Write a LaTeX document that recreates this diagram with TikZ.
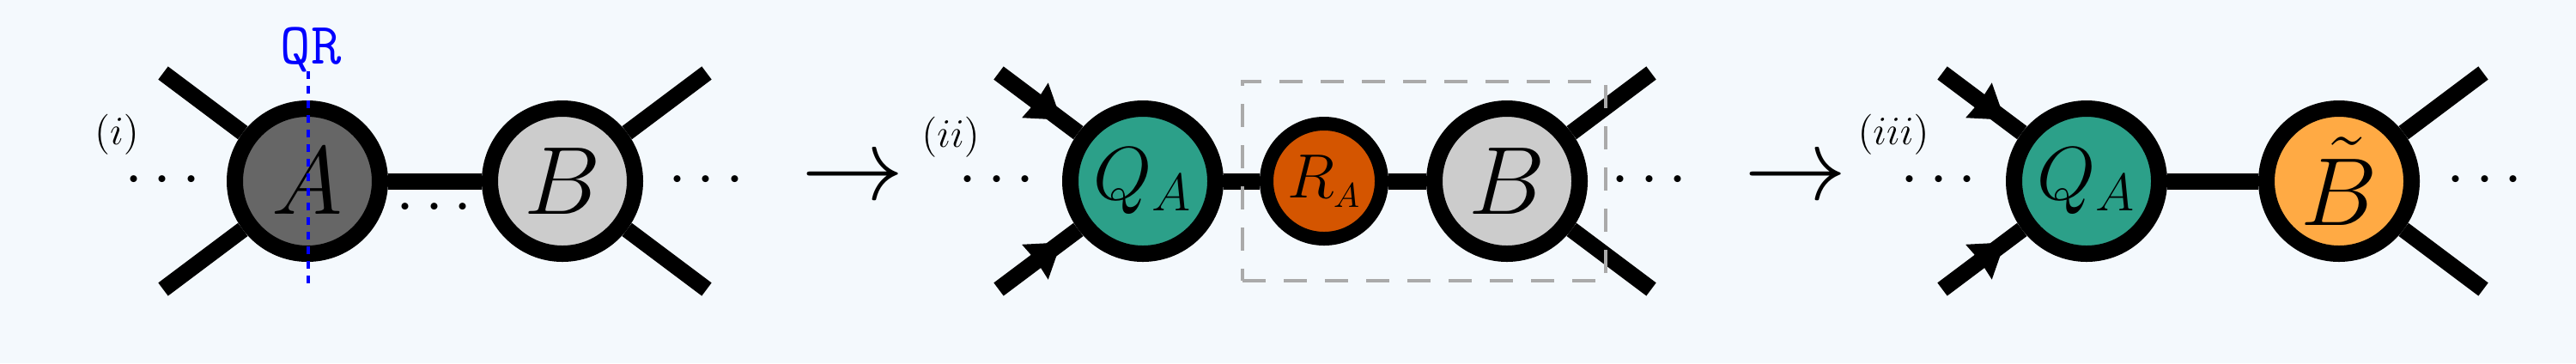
\documentclass[tikz,border=0pt]{standalone}
\usepackage{fix-cm}
\usetikzlibrary{decorations.markings}
\definecolor{bgcol}{HTML}{F4F9FD}
\definecolor{darkA}{HTML}{666666}
\definecolor{lightB}{HTML}{CCCCCC}
\definecolor{tealQ}{HTML}{2CA089}
\definecolor{rustR}{HTML}{D45500}
\definecolor{orangeB}{HTML}{FFAA44}
\definecolor{boxgray}{HTML}{AAAAAA}
\definecolor{qrblue}{HTML}{0000FF}
\tikzset{
  tensor/.style={circle, draw=black, line width=0.19cm, minimum size=1.69cm, inner sep=0pt},
  smalltensor/.style={circle, draw=black, line width=0.16cm, minimum size=1.34cm, inner sep=0pt},
  bond/.style={line width=0.19cm},
  leg/.style={line width=0.19cm},
  inleg/.style={leg, postaction={decorate}, decoration={markings,
      mark=at position 0.91cm with {\fill (0,0) -- (-0.38,0.255) -- (-0.36,0) -- (-0.38,-0.255) -- cycle;}}},
  bigtext/.style={font=\fontsize{32}{38}\selectfont},
  qfont/.style={font=\fontsize{25}{30}\selectfont},
  rfont/.style={font=\fontsize{20.7}{25}\selectfont},
  dotsnode/.style={inner sep=0pt, font=\fontsize{21.5}{26}\selectfont},
  arrownode/.style={inner sep=0pt, font=\fontsize{34}{40}\selectfont},
  panellabel/.style={inner sep=0pt, font=\fontsize{13.4}{16}\selectfont},
  qrlabel/.style={inner sep=0pt, text=qrblue, font=\fontsize{19.5}{23}\selectfont\ttfamily},
  qrline/.style={draw=qrblue, line width=0.045cm, dash pattern=on 0.09cm off 0.08cm},
  dashbox/.style={draw=boxgray, line width=0.04cm, dash pattern=on 0.27cm off 0.21cm,
      minimum width=4.23cm, minimum height=2.32cm, inner sep=0pt}
}
\begin{document}
\begin{tikzpicture}
\useasboundingbox (0,-2.12) rectangle (30,2.11);
\fill[bgcol] (0,-2.12) rectangle (30,2.11);

% ---------- panel (i)
\node[tensor, fill=darkA, bigtext] (A1) at (3.58,0) {$A$};
\node[tensor, fill=lightB, bigtext] (B1) at (6.55,0) {$B$};
\coordinate (A1ul) at (1.90,1.26);
\coordinate (A1dl) at (1.90,-1.26);
\coordinate (B1ur) at (8.23,1.26);
\coordinate (B1dr) at (8.23,-1.26);
\draw[leg] (A1ul) -- (A1);
\draw[leg] (A1dl) -- (A1);
\draw[leg] (B1) -- (B1ur);
\draw[leg] (B1) -- (B1dr);
\draw[bond] (A1) -- (B1);
\node[dotsnode] (d1l) at (1.895,0) {$\cdots$};
\node[dotsnode] (d1m) at (5.06,-0.32) {$\cdots$};
\node[dotsnode] (d1r) at (8.225,0) {$\cdots$};
\node[panellabel] (l1) at (1.36,0.54) {$(i)$};
\node[qrlabel] (qr) at (3.62,1.53) {QR};
\coordinate (qrtop) at (3.59,1.28);
\coordinate (qrbot) at (3.59,-1.19);
\draw[qrline] (qrtop) -- (qrbot);

% ---------- panel (ii)
\node[arrownode] (ar1) at (9.93,0) {$\rightarrow$};
\node[panellabel] (l2) at (11.07,0.515) {$(ii)$};
\node[dotsnode] (d2l) at (11.61,0) {$\cdots$};
\node[tensor, fill=tealQ, qfont] (Q2) at (13.31,0) {$Q_A$};
\node[smalltensor, fill=rustR, rfont] (R2) at (15.42,0) {$R_{\mbox{\fontsize{11.4}{13}\selectfont$A$}}$};
\node[tensor, fill=lightB, bigtext] (B2) at (17.55,0) {$B$};
\coordinate (Q2ul) at (11.63,1.26);
\coordinate (Q2dl) at (11.63,-1.26);
\coordinate (B2ur) at (19.23,1.26);
\coordinate (B2dr) at (19.23,-1.26);
\draw[inleg] (Q2ul) -- (Q2);
\draw[inleg] (Q2dl) -- (Q2);
\draw[leg] (B2) -- (B2ur);
\draw[leg] (B2) -- (B2dr);
\draw[bond] (Q2) -- (R2);
\draw[bond] (R2) -- (B2);
\node[dotsnode] (d2r) at (19.21,0) {$\cdots$};
\node[dashbox] (box) at (16.585,0) {};

% ---------- panel (iii)
\node[arrownode] (ar2) at (20.91,0) {$\rightarrow$};
\node[panellabel] (l3) at (22.05,0.54) {$(iii)$};
\node[dotsnode] (d3l) at (22.58,0) {$\cdots$};
\node[tensor, fill=tealQ, qfont] (Q3) at (24.30,0) {$Q_A$};
\node[tensor, fill=orangeB, bigtext] (B3) at (27.24,0) {$\tilde{B}$};
\coordinate (Q3ul) at (22.62,1.26);
\coordinate (Q3dl) at (22.62,-1.26);
\coordinate (B3ur) at (28.92,1.26);
\coordinate (B3dr) at (28.92,-1.26);
\draw[inleg] (Q3ul) -- (Q3);
\draw[inleg] (Q3dl) -- (Q3);
\draw[leg] (B3) -- (B3ur);
\draw[leg] (B3) -- (B3dr);
\draw[bond] (Q3) -- (B3);
\node[dotsnode] (d3r) at (28.94,0) {$\cdots$};
\end{tikzpicture}
\end{document}
